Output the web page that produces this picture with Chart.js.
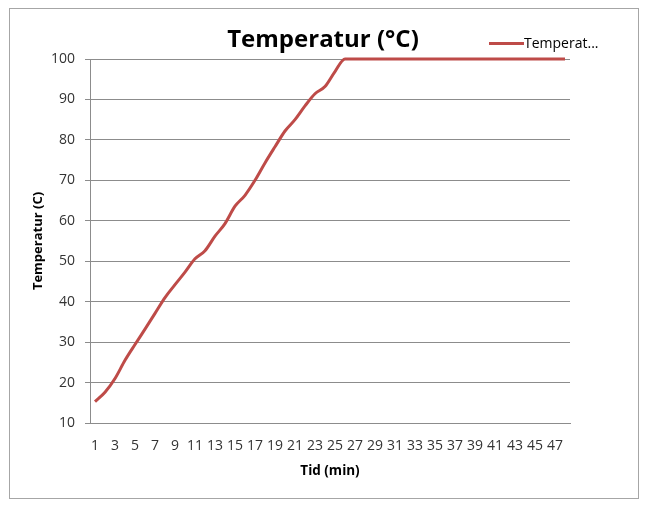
<!DOCTYPE html>
<html>
<head>
<meta charset="utf-8">
<script src="https://cdn.jsdelivr.net/npm/chart.js@4"></script>
<style>
html,body{margin:0;padding:0;background:#fff;}
#wrap{width:646px;height:510px;}
</style>
</head>
<body>
<div id="wrap"><canvas id="c" width="646" height="510"></canvas></div>
<script>
const chartTitle = 'Temperatur (°C)';
const seriesLabel = 'Temperat...';
const xTitle = 'Tid (min)';
const yTitle = 'Temperatur (C)';
const minutes = [];
for (let i = 1; i <= 48; i++) minutes.push(String(i));
const temperature = [
  15.3, 17.6, 21.0, 25.5, 29.4, 33.2, 37.1, 41.0, 44.2, 47.3,
  50.6, 52.6, 56.2, 59.3, 63.6, 66.3, 70.0, 74.3, 78.3, 82.2,
  85.0, 88.4, 91.4, 93.2, 96.9, 100, 100, 100, 100, 100,
  100, 100, 100, 100, 100, 100, 100, 100, 100, 100,
  100, 100, 100, 100, 100, 100, 100, 100
];
const yMin = 10, yMax = 100, yStep = 10;

const lineColor = '#BE4B48';
const gridColor = '#8c8c8c';
const tickColor = '#333333';
const fontFam = '"Open Sans", "DejaVu Sans", sans-serif';

const framePlugin = {
  id: 'frame',
  beforeDraw(chart) {
    const ctx = chart.ctx;
    ctx.save();
    ctx.fillStyle = '#ffffff';
    ctx.fillRect(0, 0, chart.width, chart.height);
    ctx.strokeStyle = '#a6a6a6';
    ctx.lineWidth = 1;
    ctx.strokeRect(9.5, 8.5, 629, 490);
    ctx.restore();
  },
  afterDraw(chart) {
    const ctx = chart.ctx;
    const ds = chart.data.datasets[0];
    ctx.save();
    ctx.strokeStyle = ds.borderColor;
    ctx.lineWidth = 3;
    ctx.beginPath();
    ctx.moveTo(489, 43.5);
    ctx.lineTo(524, 43.5);
    ctx.stroke();
    ctx.fillStyle = '#000';
    ctx.font = '14px ' + fontFam;
    ctx.textBaseline = 'middle';
    ctx.textAlign = 'left';
    ctx.fillText(ds.label, 524, 44);
    ctx.restore();
  }
};

new Chart(document.getElementById('c'), {
  type: 'line',
  data: {
    labels: minutes,
    datasets: [{
      label: seriesLabel,
      data: temperature,
      borderColor: lineColor,
      backgroundColor: lineColor,
      borderWidth: 3,
      pointRadius: 0,
      cubicInterpolationMode: 'monotone',
      clip: false
    }]
  },
  options: {
    responsive: false,
    animation: false,
    devicePixelRatio: 1,
    layout: { padding: { left: 0, right: 0, top: 0, bottom: 0 } },
    plugins: {
      legend: { display: false },
      tooltip: { enabled: false },
      title: {
        display: true,
        text: chartTitle,
        color: '#000',
        font: { family: fontFam, size: 24, weight: 'bold', lineHeight: 1.2 },
        padding: { top: 25.5, bottom: 4.7 }
      }
    },
    scales: {
      x: {
        type: 'category',
        offset: true,
        grid: { display: false, drawTicks: false },
        border: { display: true, color: gridColor, width: 1 },
        ticks: {
          autoSkip: false,
          maxRotation: 0,
          minRotation: 0,
          padding: 14.5,
          color: tickColor,
          font: { family: fontFam, size: 14 },
          callback: function(v, i) { return i % 2 === 0 ? this.getLabelForValue(v) : ''; }
        },
        title: {
          display: true,
          text: xTitle,
          color: '#000',
          font: { family: fontFam, size: 13.5, weight: 'bold', lineHeight: 1.2 },
          padding: { top: 0, bottom: 31 }
        },
        afterFit(s) { s.height = 87; }
      },
      y: {
        min: yMin,
        max: yMax,
        ticks: {
          stepSize: yStep,
          padding: 10,
          color: tickColor,
          font: { family: fontFam, size: 14 }
        },
        grid: { color: gridColor, lineWidth: 1, drawTicks: true, tickLength: 5, tickColor: gridColor },
        border: { display: true, color: gridColor, width: 1 },
        title: {
          display: true,
          text: yTitle,
          color: '#000',
          font: { family: fontFam, size: 13, weight: 'bold', lineHeight: 1.2 },
          padding: { top: 30, bottom: 0 }
        },
        afterFit(s) { s.width = 90; }
      },
      yRight: {
        position: 'right',
        display: true,
        grid: { display: false, drawTicks: false },
        border: { display: false },
        ticks: { display: false },
        afterFit(s) { s.width = 76; }
      }
    }
  },
  plugins: [framePlugin]
});
</script>
</body>
</html>
